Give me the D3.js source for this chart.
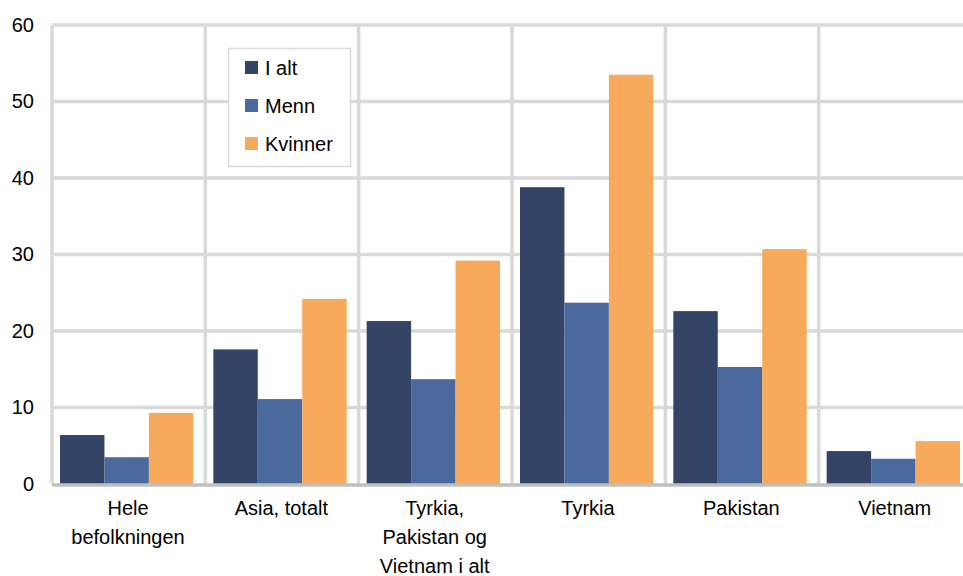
<!DOCTYPE html>
<meta charset="utf-8">
<script src="https://d3js.org/d3.v7.min.js"></script>
<body style="margin:0;background:#fff">
<div id="chart"></div>
</body>
<script>
// data
var categories = [["Hele", "befolkningen"], ["Asia, totalt"], ["Tyrkia,", "Pakistan og", "Vietnam i alt"], ["Tyrkia"], ["Pakistan"], ["Vietnam"]];
var series = ["I alt", "Menn", "Kvinner"];
var iAlt    = [6.4, 17.6, 21.3, 38.8, 22.6, 4.3];
var menn    = [3.5, 11.1, 13.7, 23.7, 15.3, 3.3];
var kvinner = [9.3, 24.2, 29.2, 53.5, 30.7, 5.6];
var yTicks = [0, 10, 20, 30, 40, 50, 60];
var colors = ["#334466", "#4a6a9e", "#f7a95c"];

var values = [iAlt, menn, kvinner];
var margin = {top: 25, left: 52},
    width = 920, height = 459;
var font = "'Liberation Sans', Arial, sans-serif";

var svg = d3.select("#chart").append("svg")
    .attr("width", 963).attr("height", 576)
    .style("font-family", font);

var g = svg.append("g").attr("transform", "translate(" + margin.left + "," + margin.top + ")");

var x = d3.scaleBand().domain(d3.range(categories.length)).range([0, width]);
var xSub = d3.scaleBand().domain(d3.range(series.length))
    .range([8, x.bandwidth() - 12]);
var y = d3.scaleLinear().domain([0, 60]).range([height, 0]);

// grid
g.selectAll(".hgrid").data(yTicks.slice(1)).enter().append("line")
    .attr("x1", 0).attr("x2", width)
    .attr("y1", function(d) { return y(d); }).attr("y2", function(d) { return y(d); })
    .attr("stroke", "#d9d9d9").attr("stroke-width", 3.5);
g.selectAll(".vgrid").data(d3.range(categories.length)).enter().append("line")
    .attr("x1", function(d) { return x(d); }).attr("x2", function(d) { return x(d); })
    .attr("y1", 0).attr("y2", height)
    .attr("stroke", "#d9d9d9").attr("stroke-width", 3.5);

// bars
var groups = g.selectAll(".grp").data(categories).enter().append("g")
    .attr("transform", function(d, i) { return "translate(" + x(i) + ",0)"; });
groups.selectAll("rect")
    .data(function(d, i) { return values.map(function(v, s) { return {s: s, v: v[i]}; }); })
    .enter().append("rect")
    .attr("x", function(d) { return xSub(d.s); })
    .attr("width", xSub.bandwidth())
    .attr("y", function(d) { return y(d.v); })
    .attr("height", function(d) { return height - y(d.v); })
    .attr("fill", function(d) { return colors[d.s]; });

// zero axis
g.append("line").attr("x1", 0).attr("x2", width)
    .attr("y1", y(0) + 1).attr("y2", y(0) + 1)
    .attr("stroke", "#bfbfbf").attr("stroke-width", 3.5);

// y labels
var yAxis = g.append("g").call(d3.axisLeft(y).tickValues(yTicks).tickSize(0).tickPadding(18));
yAxis.select(".domain").remove();
yAxis.selectAll("text").attr("font-size", 20).attr("fill", "#000")
    .attr("font-family", font);

// x labels
var xl = g.selectAll(".xl").data(categories).enter().append("text")
    .attr("text-anchor", "middle")
    .attr("font-size", 20).attr("fill", "#000")
    .attr("transform", function(d, i) { return "translate(" + (x(i) + 76) + "," + (height + 31) + ")"; });
xl.selectAll("tspan").data(function(d) { return d; }).enter().append("tspan")
    .attr("x", 0).attr("dy", function(d, i) { return i ? 29 : 0; })
    .text(function(d) { return d; });

// legend
var lg = svg.append("g").attr("transform", "translate(228,48)");
lg.append("rect").attr("x", 0.5).attr("y", 0.5).attr("width", 122).attr("height", 118)
    .attr("fill", "#fff").attr("stroke", "#d9d9d9").attr("stroke-width", 1.5);
var li = lg.selectAll(".li").data(series).enter().append("g")
    .attr("transform", function(d, i) { return "translate(17," + (13 + i * 38) + ")"; });
li.append("rect").attr("width", 13).attr("height", 13)
    .attr("fill", function(d, i) { return colors[i]; });
li.append("text").attr("x", 20).attr("y", 14).attr("font-size", 20).attr("fill", "#000")
    .text(function(d) { return d; });
</script>
